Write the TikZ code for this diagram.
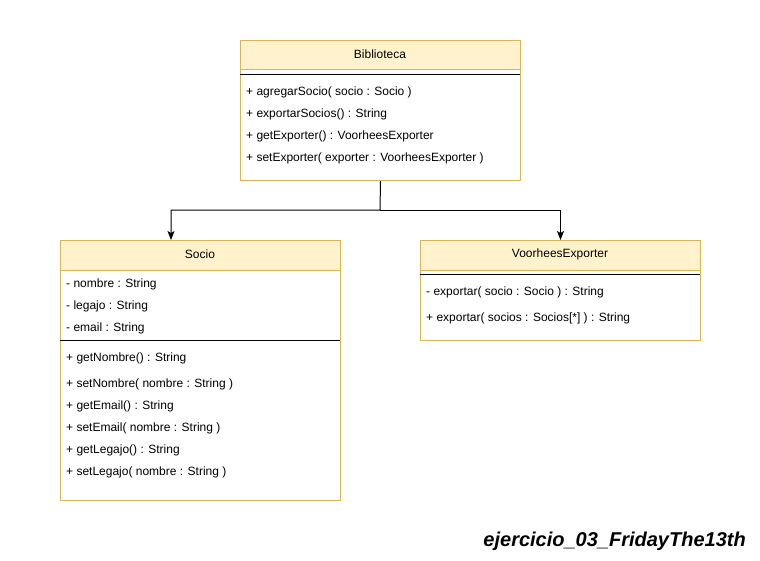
\documentclass[tikz,border=0pt]{standalone}
\usepackage{fontspec}
\setmainfont{Liberation Sans}
\usetikzlibrary{arrows.meta}
\definecolor{hdrfill}{HTML}{FFF2CC}
\definecolor{hdrdraw}{HTML}{D6B656}
\tikzset{
  classbox/.style={draw=hdrdraw, fill=white, line width=1pt, anchor=north west, inner sep=0pt},
  header/.style={draw=hdrdraw, fill=hdrfill, line width=1pt, anchor=north west, inner sep=0pt},
  hdrtext/.style={inner sep=0pt, font=\fontsize{12pt}{14pt}\selectfont},
  member/.style={anchor=west, inner sep=0pt, font=\fontsize{12pt}{14pt}\selectfont},
  sep/.style={draw=black, line width=1pt},
  conn/.style={draw=black, line width=1pt},
  arr/.style={conn, -{Stealth[length=9pt,width=7pt,inset=2pt]}},
  titletext/.style={anchor=east, inner sep=0pt, font=\fontsize{20pt}{24pt}\selectfont\bfseries\itshape}
}
\begin{document}
\begin{tikzpicture}[x=1pt,y=-1pt]
\useasboundingbox (0,0) rectangle (760,560);
% Biblioteca
\node[classbox, minimum width=280pt, minimum height=140pt] (bib) at (240,40) {};
\node[header, minimum width=280pt, minimum height=29pt] (bibh) at (240,40) {};
\node[hdrtext] (bibt) at (380,54) {Biblioteca};
\draw[sep] (240,74) -- (520,74);
\node[member] (b1) at (246,92.5) {+ agregarSocio( socio : Socio )};
\node[member] (b2) at (246,114.5) {+ exportarSocios() : String};
\node[member] (b3) at (246,136.5) {+ getExporter() : VoorheesExporter};
\node[member] (b4) at (246,158.5) {+ setExporter( exporter : VoorheesExporter )};
% Socio
\node[classbox, minimum width=280pt, minimum height=260pt] (socio) at (60,240) {};
\node[header, minimum width=280pt, minimum height=30pt] (socioh) at (60,240) {};
\node[hdrtext] (sociot) at (200,254) {Socio};
\node[member] (s1) at (66,284.5) {- nombre : String};
\node[member] (s2) at (66,306.5) {- legajo : String};
\node[member] (s3) at (66,328.5) {- email : String};
\draw[sep] (60,340) -- (340,340);
\node[member] (s4) at (66,358.5) {+ getNombre() : String};
\node[member] (s5) at (66,384.5) {+ setNombre( nombre : String )};
\node[member] (s6) at (66,406.5) {+ getEmail() : String};
\node[member] (s7) at (66,428.5) {+ setEmail( nombre : String )};
\node[member] (s8) at (66,450.5) {+ getLegajo() : String};
\node[member] (s9) at (66,472.5) {+ setLegajo( nombre : String )};
% VoorheesExporter
\node[classbox, minimum width=280pt, minimum height=100pt] (ve) at (420,240) {};
\node[header, minimum width=280pt, minimum height=30pt] (veh) at (420,240) {};
\node[hdrtext] (vet) at (560,254) {VoorheesExporter};
\draw[sep] (420,274) -- (700,274);
\node[member] (v1) at (426,292.5) {- exportar( socio : Socio ) : String};
\node[member] (v2) at (426,318.5) {+ exportar( socios : Socios[*] ) : String};
% connectors
\coordinate (j) at (380,210);
\coordinate (sotop) at (171,240);
\draw[arr] (bib.south) -- (j) -| (sotop);
\draw[arr] (j) -| (ve.north);
% title
\node[titletext] (title) at (746,541) {ejercicio\_03\_FridayThe13th};
\end{tikzpicture}
\end{document}
